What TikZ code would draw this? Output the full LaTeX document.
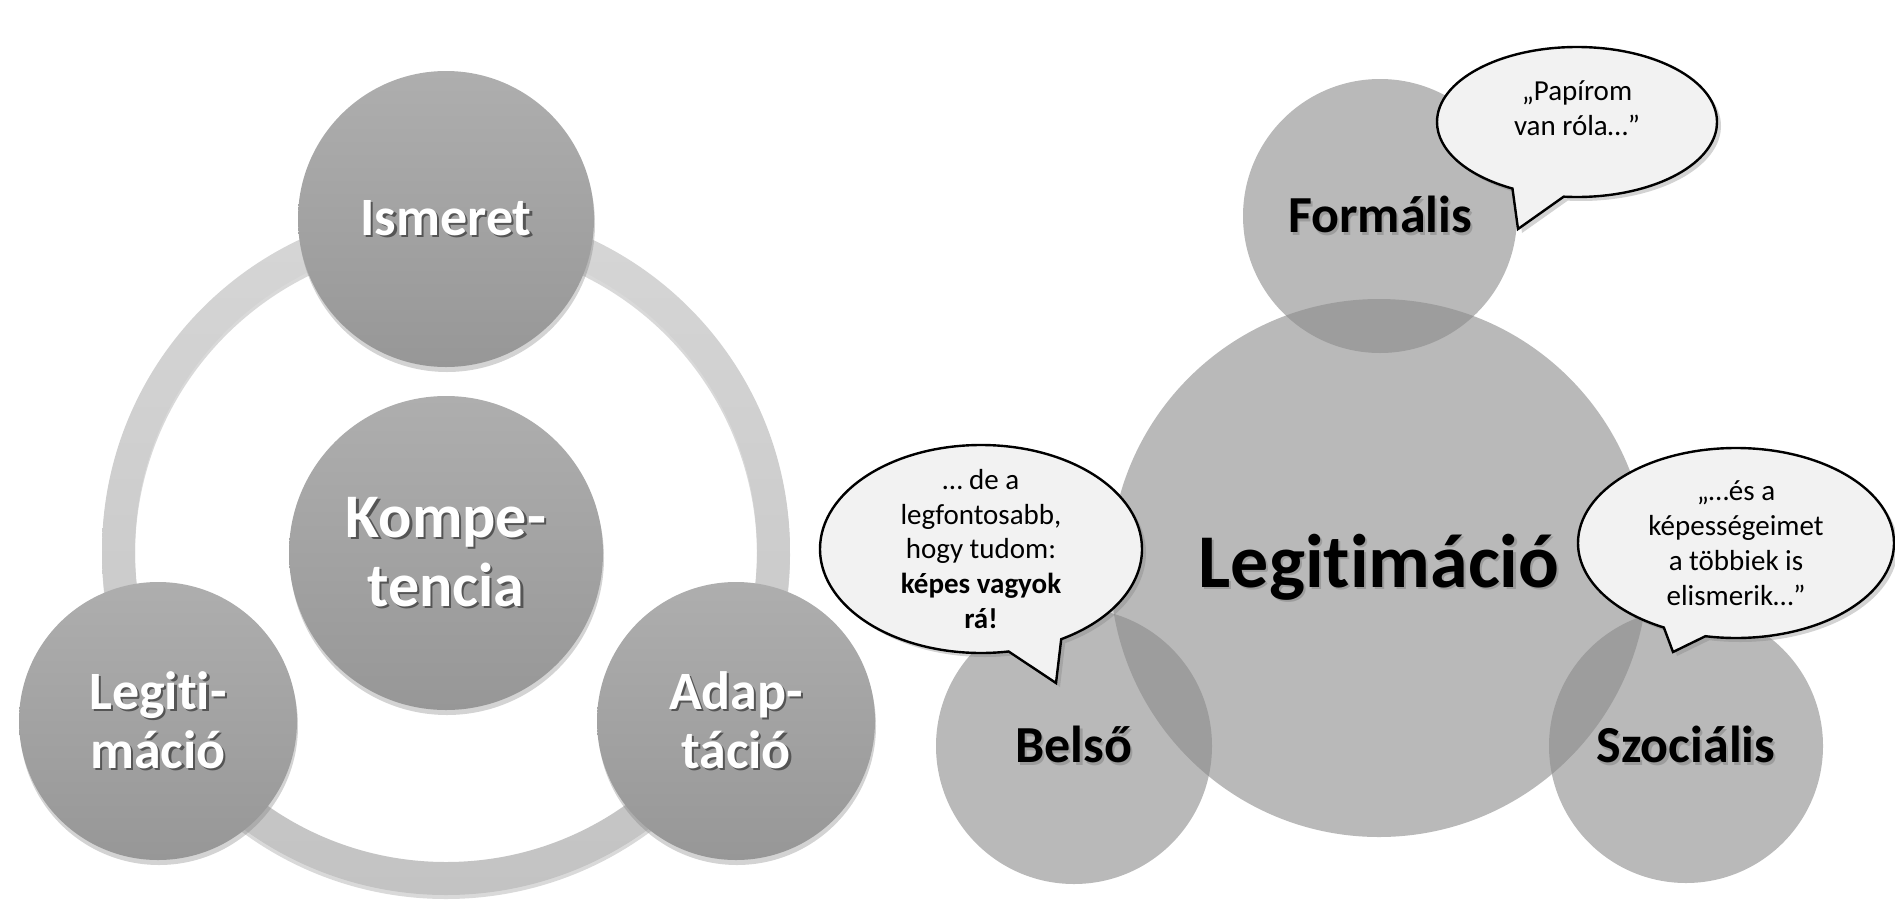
\documentclass[tikz,border=0pt]{standalone}
\usepackage{fontspec}
\setmainfont{Carlito}[Ligatures=NoCommon]
\usetikzlibrary{positioning}
\usetikzlibrary{shapes.callouts,shadows}

\definecolor{ballTop}{HTML}{AEAEAE}
\definecolor{ballBot}{HTML}{979797}
\definecolor{ringTop}{HTML}{D6D6D6}
\definecolor{ringBot}{HTML}{C3C3C3}
\definecolor{glassFill}{HTML}{8A8A8A}
\definecolor{bubbleFill}{HTML}{F2F2F2}
\definecolor{darkShade}{HTML}{555555}
\definecolor{lightShade}{HTML}{9C9C9C}

\newcommand{\shtext}[2]{\makebox[0pt][l]{\hspace{1.1pt}\raisebox{-1.1pt}{\textcolor{#1}{#2}}}#2}

\tikzset{
ball/.style={circle,minimum size=#1,inner sep=0pt,top color=ballTop,bottom color=ballBot,
  text=white,align=center,drop shadow={shadow xshift=0.5pt,shadow yshift=-2.5pt,opacity=0.35}},
glass/.style={circle,minimum size=#1,inner sep=0pt,fill=glassFill,fill opacity=0.6,text opacity=1},
bubble/.style={ellipse callout,draw=black,line width=1.2pt,fill=bubbleFill,inner sep=0pt,
  drop shadow={shadow xshift=2pt,shadow yshift=-2pt,opacity=0.35}},
bubbletext/.style={align=center,font=\fontsize{14.5}{17.4}\selectfont}
}

\begin{document}
\begin{tikzpicture}[x=0.5pt,y=-0.5pt]
\useasboundingbox (0,0) rectangle (1895,900);

% left: competence wheel
\coordinate (hub) at (446,551);
\shade[top color=ringTop,bottom color=ringBot,even odd rule,
 preaction={fill=black,opacity=0.15,even odd rule,transform canvas={yshift=-2pt}}]
 (hub) circle[radius=172pt] (hub) circle[radius=155.5pt];

\node[ball=157pt,font=\fontsize{31}{34.5}\selectfont\bfseries](kompetencia) at (446,553)
 {\shtext{darkShade}{Kompe-}\\\shtext{darkShade}{tencia}};
\node[ball=148pt,font=\fontsize{27}{31}\selectfont\bfseries](ismeret) at (446,219)
 {\shtext{darkShade}{Ismeret}};
\node[ball=139pt,font=\fontsize{27}{29.5}\selectfont\bfseries](legitL) at (158,721)
 {\shtext{darkShade}{Legiti-}\\\shtext{darkShade}{máció}};
\node[ball=139pt,font=\fontsize{27}{29.5}\selectfont\bfseries](adaptacio) at (736,721)
 {\shtext{darkShade}{Adap-}\\\shtext{darkShade}{táció}};

% right: legitimation
\node[glass=269pt,font=\fontsize{38}{44}\selectfont\bfseries](legitR) at (1379,568)
 {\shtext{lightShade}{Legitimáció}};
\node[glass=137pt,font=\fontsize{26}{30}\selectfont\bfseries](formalis) at (1380,216)
 {\shtext{lightShade}{Formális}};
\node[glass=138pt,font=\fontsize{26}{30}\selectfont\bfseries](belso) at (1074,746)
 {\shtext{lightShade}{Belső}};
\node[glass=137pt,font=\fontsize{26}{30}\selectfont\bfseries](szocialis) at (1686,746)
 {\shtext{lightShade}{Szociális}};

\coordinate (tipF) at (1518,229);
\coordinate (tipB) at (1056,683);
\coordinate (tipS) at (1673,652);

\node[bubble,minimum width=140pt,minimum height=75pt,callout pointer arc=22,
 callout absolute pointer={(tipF)}](bubF) at (1577,122){};
\node[bubble,minimum width=161pt,minimum height=104pt,callout pointer arc=20,
 callout absolute pointer={(tipB)}](bubB) at (981,549){};
\node[bubble,minimum width=158pt,minimum height=95pt,callout pointer arc=16,
 callout absolute pointer={(tipS)}](bubS) at (1736,543){};

\node[bubbletext](txtF) at (1577,108){„Papírom\\van róla…”};
\node[bubbletext](txtB) at (bubB){… de a\\legfontosabb,\\hogy tudom:\\\textbf{képes vagyok}\\\textbf{rá!}};
\node[bubbletext](txtS) at (bubS){„…és a\\képességeimet\\a többiek is\\elismerik…”};
\end{tikzpicture}
\end{document}
